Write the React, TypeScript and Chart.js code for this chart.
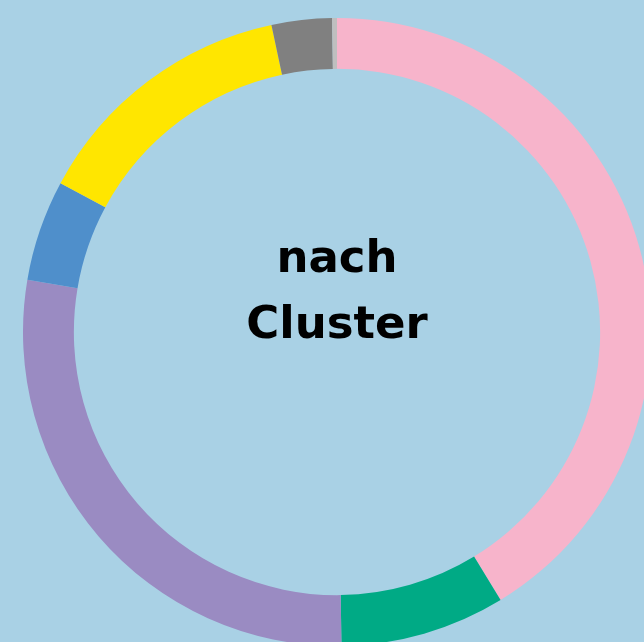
import React, { useEffect, useRef } from "react";
import { Chart, registerables } from "chart.js";

Chart.register(...registerables);

const categories = ["Cluster A", "Cluster B", "Cluster C", "Cluster D", "Cluster E", "Cluster F", "Cluster G"];
const shares = [41.3, 8.5, 27.9, 5.2, 13.8, 3.1, 0.25];
const colors = ["#f7b4cb", "#00aa85", "#9a8bc2", "#4f8fcb", "#ffe600", "#808080", "#bfbfbf"];
const centerLines = ["nach", "Cluster"];
const BG = "#a9d1e5";

const centerText = {
  id: "centerText",
  afterDraw(chart: any) {
    const meta = chart.getDatasetMeta(0);
    const arc = meta.data[0];
    if (!arc) return;
    const { x, y } = arc;
    const ctx = chart.ctx;
    ctx.save();
    ctx.fillStyle = "#000000";
    ctx.font = "bold 45px 'DejaVu Sans'";
    ctx.textAlign = "center";
    ctx.textBaseline = "alphabetic";
    ctx.fillText(centerLines[0], x, y - 60);
    ctx.fillText(centerLines[1], x, y + 6);
    ctx.restore();
  },
};

export default function App() {
  const ref = useRef<HTMLCanvasElement | null>(null);
  useEffect(() => {
    if (!ref.current) return;
    const chart = new Chart(ref.current, {
      type: "doughnut",
      data: {
        labels: categories,
        datasets: [
          {
            data: shares,
            backgroundColor: colors,
            borderWidth: 0,
          },
        ],
      },
      options: {
        animation: false,
        responsive: true,
        maintainAspectRatio: false,
        cutout: "83.8%",
        layout: { padding: 0 },
        plugins: {
          legend: { display: false },
          tooltip: { enabled: false },
        },
      },
      plugins: [centerText],
    });
    return () => chart.destroy();
  }, []);
  return (
    <div style={{ position: "fixed", left: 0, top: 0, width: "100vw", height: "100vh", overflow: "hidden", background: BG }}>
      <div style={{ position: "absolute", left: 23, top: 18, width: 628, height: 628 }}>
        <canvas ref={ref} />
      </div>
    </div>
  );
}
